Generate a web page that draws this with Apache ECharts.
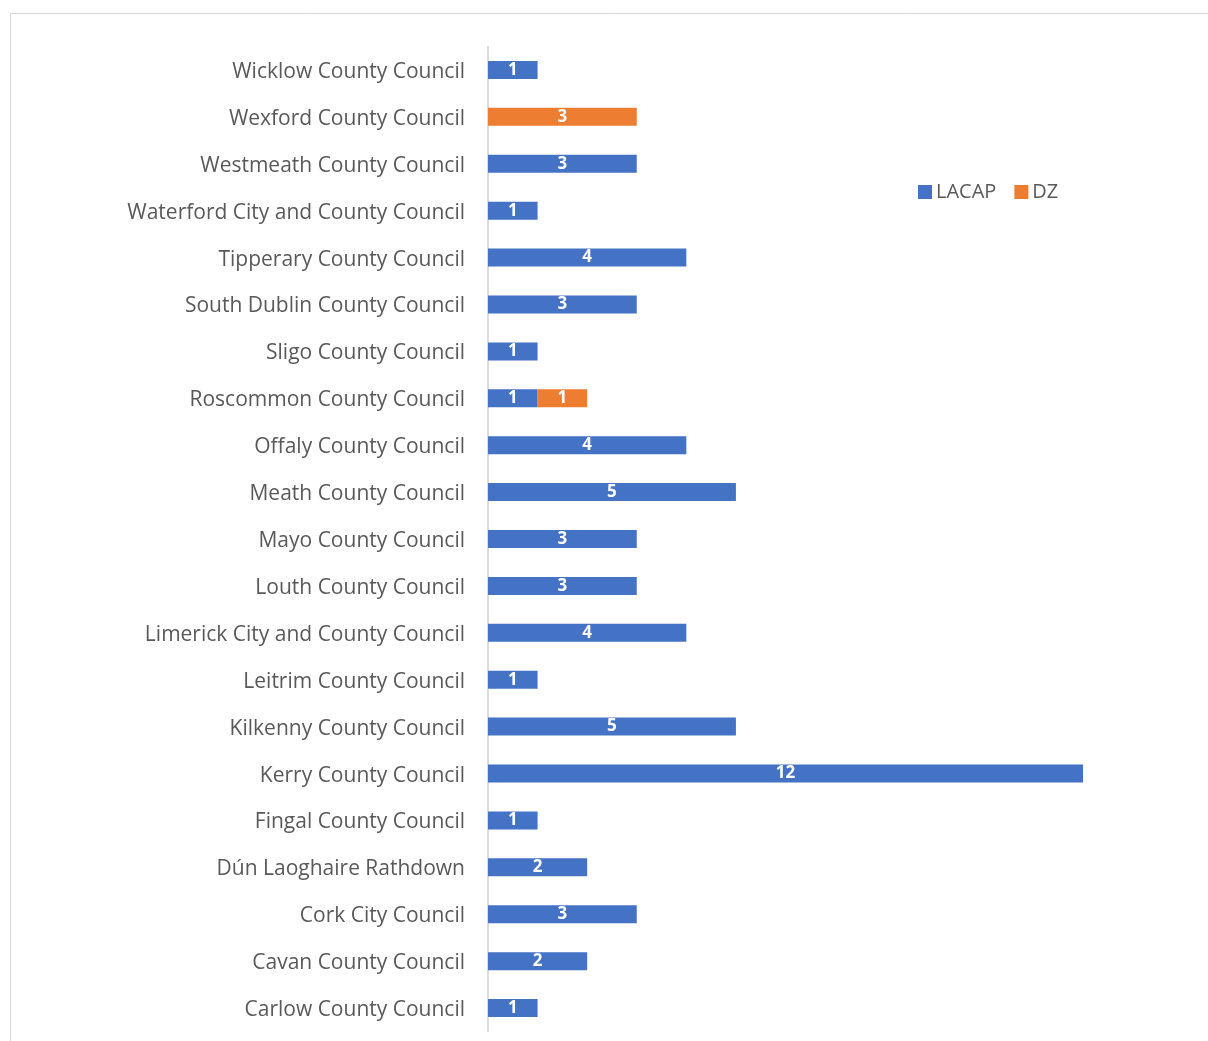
<!DOCTYPE html>
<html><head><meta charset="utf-8">
<script src="https://cdn.jsdelivr.net/npm/echarts@6/dist/echarts.min.js"></script>
<style>html,body{margin:0;padding:0;background:#fff;}#c{width:1208px;height:1041px;}</style>
</head><body><div id="c"></div>
<script>
const categories = ["Carlow County Council","Cavan County Council","Cork City Council","Dún Laoghaire Rathdown","Fingal County Council","Kerry County Council","Kilkenny County Council","Leitrim County Council","Limerick City and County Council","Louth County Council","Mayo County Council","Meath County Council","Offaly County Council","Roscommon County Council","Sligo County Council","South Dublin County Council","Tipperary County Council","Waterford City and County Council","Westmeath County Council","Wexford County Council","Wicklow County Council"];
const lacap = [1,2,3,2,1,12,5,1,4,3,3,5,4,1,1,3,4,1,3,null,1];
const dz = [null,null,null,null,null,null,null,null,null,null,null,null,null,1,null,null,null,null,null,3,null];
const seriesNames = ["LACAP","DZ"];

const chart = echarts.init(document.getElementById('c'));
const lbl = {show:true, position:'inside', color:'#fff', fontWeight:'bold', fontSize:17, fontFamily:'Open Sans', padding:[4,0,0,0], formatter: p => p.value};
chart.setOption({
  animation:false,
  graphic:[{type:'rect', shape:{x:10.5,y:13.5,width:1400,height:1200}, style:{fill:'none', stroke:'#d9d9d9', lineWidth:1}, silent:true}],
  legend:{left:918, top:182, padding:0, itemWidth:14, itemHeight:14, itemGap:18, icon:'rect',
    textStyle:{color:'#595959', fontSize:20, fontFamily:'Open Sans', padding:[0,0,0,-1]}, data:seriesNames},
  grid:{left:488, top:46.5, width:595, height:985, containLabel:false},
  xAxis:{type:'value', min:0, max:12, show:false},
  yAxis:{type:'category', data:categories,
    axisLine:{lineStyle:{color:'#d0d0d0', width:1.5}}, axisTick:{show:false},
    axisLabel:{margin:23, formatter: v => '{t|' + v + '}',
      rich:{t:{color:'#595959', fontSize:21, fontFamily:'Open Sans', padding:[4,0,0,0]}}}},
  series:[
    {name:'LACAP', type:'bar', stack:'s', data:lacap, barWidth:18, itemStyle:{color:'#4472C4'}, label:lbl},
    {name:'DZ', type:'bar', stack:'s', data:dz, barWidth:18, itemStyle:{color:'#ED7D31'}, label:lbl}
  ]
});
</script></body></html>
